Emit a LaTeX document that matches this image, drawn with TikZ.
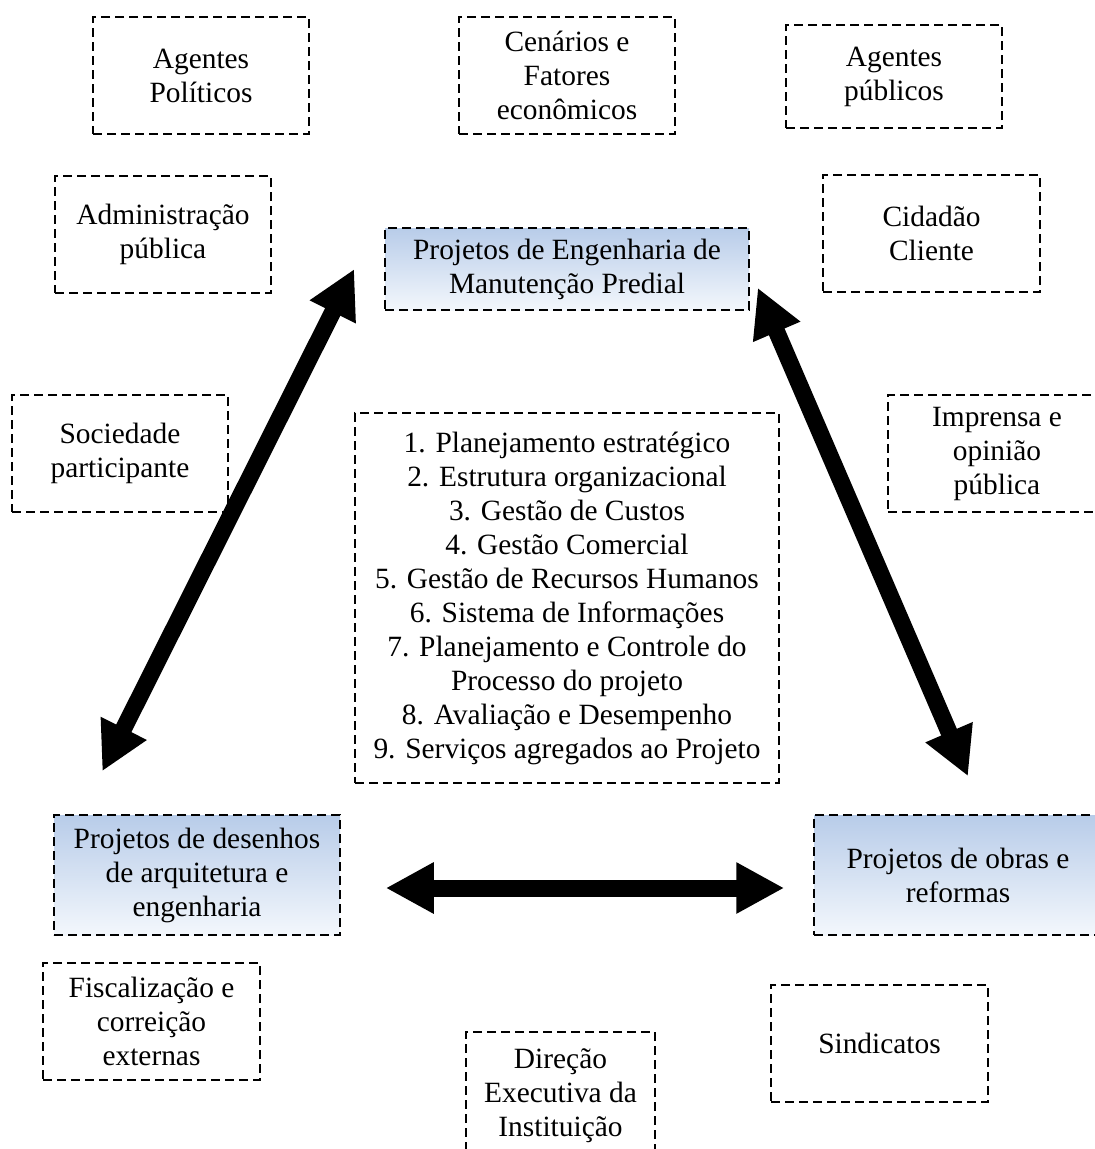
\documentclass[tikz,border=0pt]{standalone}
\usepackage{fontspec}
\setmainfont{Liberation Serif}
\usepackage{tikz}
\usetikzlibrary{arrows.meta, positioning}

\definecolor{boxtop}{RGB}{184,204,233}
\definecolor{boxbot}{RGB}{243,247,252}

\begin{document}
\begin{tikzpicture}[
  x=1pt, y=-1pt,
  font=\fontsize{29.4}{34}\selectfont,
  actor/.style={draw=black, dash pattern=on 9pt off 5pt, line width=1.5pt,
                align=center, inner sep=0pt},
  projbox/.style={actor, top color=boxtop, bottom color=boxbot},
  bigarrow/.style={{Triangle[length=48pt, width=48pt]}-{Triangle[length=48pt, width=48pt]},
                   line width=17pt, black},
]
  \useasboundingbox (0,0) rectangle (1095,1149);

  % --- surrounding actors ---
  \foreach \nm/\x/\y/\w/\h/\txt in {
      pol/201/75.5/216/117/{Agentes\\Políticos},
      cen/567/75.5/216/117/{Cenários e\\Fatores\\econômicos},
      pub/894/76.5/216/103/{Agentes\\públicos},
      adm/163/234.5/216/117/{Administração\\pública},
      cid/931.5/233.5/217/117/{Cidadão\\Cliente},
      soc/120/453.5/216/117/{Sociedade\\participante},
      imp/997/453.5/218/117/{Imprensa e\\opinião\\pública},
      fis/151.5/1021.5/217/117/{Fiscalização e\\correição\\externas},
      sin/879.5/1043.5/217/117/{Sindicatos},
      dir/560.5/1096/189/128/{Direção\\Executiva da\\Instituição}} {
    \node[actor, minimum width=\w pt, minimum height=\h pt] (\nm) at (\x,\y) {\txt};
  }

  % --- project boxes ---
  \node[projbox, minimum width=364pt, minimum height=82pt] (eng) at (567,269)
    {Projetos de Engenharia de\\Manutenção Predial};
  \node[projbox, minimum width=286pt, minimum height=120pt] (des) at (197,875)
    {Projetos de desenhos\\de arquitetura e\\engenharia};
  \node[projbox, minimum width=288pt, minimum height=120pt] (obr) at (958,875)
    {Projetos de obras e\\reformas};

  % --- management list ---
  \node[actor, minimum width=424pt, minimum height=370pt] (lst) at (567,598) {
    1. Planejamento estratégico\\
    2. Estrutura organizacional\\
    3. Gestão de Custos\\
    4. Gestão Comercial\\
    5. Gestão de Recursos Humanos\\
    6. Sistema de Informações\\
    7. Planejamento e Controle do\\
    Processo do projeto\\
    8. Avaliação e Desempenho\\
    9. Serviços agregados ao Projeto};

  % --- double arrows between projects ---
  \draw[bigarrow] ([xshift=-30pt]eng.west) -- ([xshift=49pt, yshift=43pt]des.north west);
  \draw[bigarrow] ([xshift=8pt, yshift=23pt]eng.south east) -- ([xshift=10pt, yshift=38pt]obr.north);
  \draw[bigarrow] ([xshift=45pt, yshift=-13pt]des.east) -- ([xshift=-29pt, yshift=-13pt]obr.west);
\end{tikzpicture}
\end{document}
